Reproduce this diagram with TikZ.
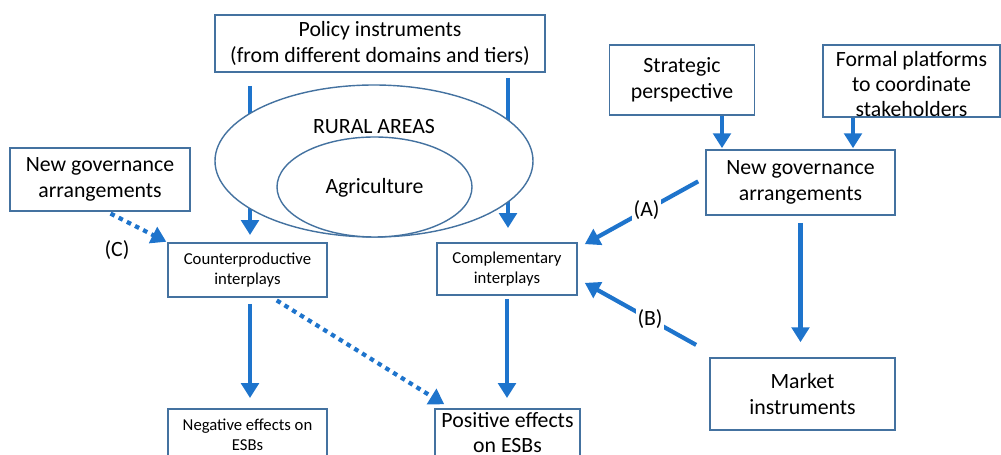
\documentclass[tikz,border=0pt]{standalone}
\usepackage{fontspec}
\setmainfont{Carlito}
\usetikzlibrary{arrows.meta}

\definecolor{boxblue}{RGB}{68,114,160}
\definecolor{arrblue}{RGB}{30,116,204}

\tikzset{
    box/.style={draw=boxblue, line width=0.9pt, fill=white, align=center,
        inner sep=1pt, font=\fontsize{12.4pt}{14.6pt}\selectfont},
    smallbox/.style={box, font=\fontsize{9.5pt}{11.4pt}\selectfont},
    arr/.style={draw=arrblue, line width=2.4pt,
        -{Triangle[width=10pt,length=8.5pt]}},
    dotarr/.style={arr, dash pattern=on 2.6pt off 2.6pt},
    lbl/.style={font=\fontsize{12.4pt}{14.6pt}\selectfont, inner sep=1pt}
}

\begin{document}
\begin{tikzpicture}[x=0.02cm, y=-0.02cm]
\useasboundingbox (0,0) rectangle (1001,455);

% top and left boxes
\node[box, minimum width=330*0.02cm, minimum height=57*0.02cm] (policy) at (380,43.5)
    {Policy instruments\\(from different domains and tiers)};
\node[box, minimum width=145*0.02cm, minimum height=70*0.02cm] (strat) at (682,80)
    {Strategic\\perspective};
\node[box, minimum width=177*0.02cm, minimum height=72*0.02cm] (formal) at (911.5,81) {};
\node[lbl, align=center, font=\fontsize{12.4pt}{14.2pt}\selectfont] (formaltxt) at (911.5,84)
    {Formal platforms\\to coordinate\\stakeholders};
\node[box, minimum width=180*0.02cm, minimum height=63*0.02cm] (ngaL) at (100,179.5)
    {New governance\\arrangements};
\node[box, minimum width=189*0.02cm, minimum height=65*0.02cm] (ngaR) at (800.5,182.5)
    {New governance\\arrangements};

% arrows from policy instruments (behind the ellipses)
\draw[arr, shorten <=0.26cm, shorten >=0.16cm] (policy.south -| 250,0) -- (250,243);
\draw[arr, shorten <=0.1cm, shorten >=0.3cm] (policy.south -| 508,0) -- (508,243);

% rural areas
\draw[boxblue, line width=0.8pt, fill=white] (374,161) ellipse [x radius=159*0.02cm, y radius=76*0.02cm];
\node[lbl] (rural) at (374,127) {RURAL AREAS};
\draw[boxblue, line width=0.8pt, fill=white] (374.5,187) ellipse [x radius=97.5*0.02cm, y radius=50*0.02cm];
\node[lbl] (agri) at (374.5,188) {Agriculture};

% interplays and effects
\node[smallbox, minimum width=159*0.02cm, minimum height=54*0.02cm] (counter) at (247.5,270)
    {Counterproductive\\interplays};
\node[smallbox, minimum width=140*0.02cm, minimum height=52*0.02cm] (compl) at (507,269)
    {Complementary\\interplays};
\node[smallbox, anchor=north, minimum width=159*0.02cm, inner ysep=0.2cm] (neg) at (247.5,408)
    {Negative effects on\\ESBs\\[6pt]};
\node[box, anchor=north, minimum width=145*0.02cm, inner ysep=0.08cm,
    font=\fontsize{12.4pt}{14pt}\selectfont] (pos) at (507.5,408)
    {Positive effects\\on ESBs\\[6pt]};
\node[box, minimum width=185*0.02cm, minimum height=72*0.02cm] (market) at (802.5,394)
    {Market\\instruments};

% connectors
\draw[arr, shorten >=0.02cm] ([xshift=0.8cm]strat.south) -- ([xshift=0.8cm]strat.south |- ngaR.north);
\draw[arr, shorten >=0.02cm] ([xshift=-1.17cm]formal.south) -- ([xshift=-1.17cm]formal.south |- ngaR.north);
\draw[arr, shorten <=0.16cm, shorten >=0.16cm] ([yshift=0.1cm]ngaR.west) -- ([yshift=0.42cm]compl.east)
    node[pos=0.46, fill=white, lbl] (labA) {(A)};
\draw[arr, shorten <=0.3cm, shorten >=0.16cm] ([yshift=0.1cm]market.north west) -- ([yshift=-0.2cm]compl.east)
    node[pos=0.45, fill=white, lbl] (labB) {(B)};
\draw[arr, shorten <=0.14cm, shorten >=0.3cm] (ngaR.south) -- (ngaR.south |- market.north);
\draw[dotarr, shorten <=0.08cm, shorten >=0.02cm] ([xshift=0.14cm]ngaL.south) -- (counter.north west);
\node[lbl] (labC) at (117,250) {(C)};
\draw[arr, shorten <=0.12cm, shorten >=0.2cm] ([xshift=0.05cm]counter.south) -- ([xshift=0.05cm]counter.south |- neg.north);
\draw[arr, shorten <=0.06cm, shorten >=0.2cm] (compl.south) -- (compl.south |- pos.north);
\draw[dotarr, shorten <=0.1cm, shorten >=0.14cm] ([xshift=0.5cm]counter.south) -- ([xshift=0.32cm]pos.north west);
\end{tikzpicture}
\end{document}
